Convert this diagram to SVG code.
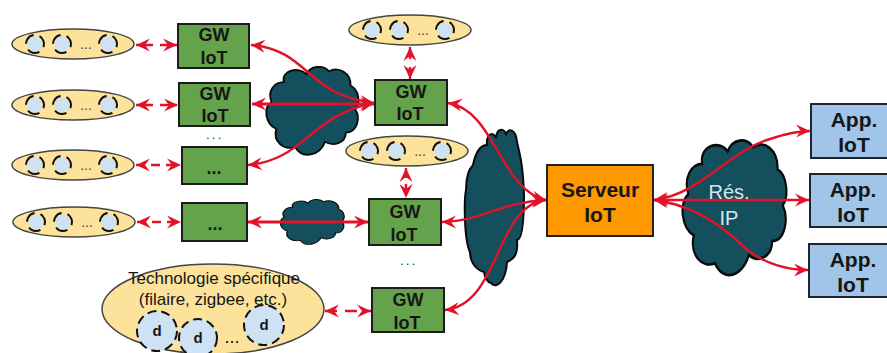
<svg xmlns="http://www.w3.org/2000/svg" xmlns:xlink="http://www.w3.org/1999/xlink" width="887" height="353" viewBox="0 0 887 353">
<style>
text{font-family:"Liberation Sans",Arial,sans-serif;text-anchor:middle;fill:#161616}
.b{font-weight:bold;font-size:18px}
.l{font-weight:bold;font-size:21px}
.gw{fill:#64a24c;stroke:#1c1c1c;stroke-width:2}
.app{fill:#a0c5e8;stroke:#1c2630;stroke-width:2}
.srv{fill:#ff9900;stroke:#222;stroke-width:2}
.y{fill:#fce29a;stroke:#444;stroke-width:1.5}
.s{fill:#cfe2f3;stroke:none}
.sd{fill:none;stroke:#111;stroke-width:2;stroke-dasharray:12.5 6.3}
.bd{fill:#cfe2f3;stroke:#111;stroke-width:2;stroke-dasharray:9 5}
.cl{fill:#134f5c;stroke:#0a0a0a;stroke-width:2;vector-effect:non-scaling-stroke}
.c{fill:none;stroke:#e2122b;stroke-width:2.4;marker-start:url(#a);marker-end:url(#a)}
.d{stroke-dasharray:17 7}
.dots{font-size:12px;letter-spacing:2.5px}
</style>
<defs>
<marker id="a" markerUnits="userSpaceOnUse" markerWidth="16" markerHeight="14" refX="14" refY="7" orient="auto-start-reverse">
<path d="M14,7 L0,0.5 L5,7 L0,13.5 Z" fill="#e2122b"/>
</marker>
<g id="sensors">
<ellipse cx="0" cy="0" rx="61" ry="15" class="y"/>
<circle cx="-38" cy="0" r="7.5" class="s"/><circle cx="-38" cy="0" r="9" class="sd" transform="rotate(-60 -38 0)"/>
<circle cx="-11" cy="0" r="7.5" class="s"/><circle cx="-11" cy="0" r="9" class="sd" transform="rotate(-60 -11 0)"/>
<circle cx="35" cy="0" r="7.5" class="s"/><circle cx="35" cy="0" r="9" class="sd" transform="rotate(-60 35 0)"/>
<text x="13" y="5" font-size="14" style="fill:#444">...</text>
</g>
<path id="cloud" d="M-30,-32 C-33,-45 -14,-50 -6,-41 C-2,-50 12,-52 18,-44 C28,-50 42,-42 41,-28 C50,-24 52,-8 46,-2 C52,8 48,24 36,24 C36,36 22,40 14,34 C8,50 -10,54 -18,40 C-30,44 -42,34 -38,20 C-50,14 -52,-4 -43,-10 C-48,-22 -40,-32 -30,-32 Z"/>
</defs>

<g id="cloud1"><use xlink:href="#cloud" class="cl" transform="translate(312,111) scale(.94,.9)"/></g>
<g id="cloud2"><use xlink:href="#cloud" class="cl" transform="translate(312,222) scale(.65,.46)"/></g>
<g id="cloud3"><path class="cl" d="M473,165 C476,150 482,145 487,145 C486,135 493,130 496,138 C497,127 505,128 506,135 C508,127 516,129 517,142 C520,155 523,165 524,195 C524,215 523,240 517,240 C518,252 516,258 507,262 C506,280 497,290 491,283 C487,282 485,278 484,272 C476,270 470,262 470,252 C464,240 464,200 466,190 C466,178 468,170 473,165 Z"/></g>
<g id="cloud4"><use xlink:href="#cloud" class="cl" transform="translate(734,208) scale(1.06,1.38)"/></g>

<g id="connectors">
<path class="c d" d="M136,45 H177"/>
<path class="c d" d="M136,105 H178"/>
<path class="c" stroke-dasharray="9 6" d="M136,165 H181"/>
<path class="c" stroke-dasharray="9 6" d="M137,222 H181"/>
<path class="c" stroke-dasharray="12 8" d="M410,47 V79"/>
<path class="c" stroke-dasharray="10 6" d="M406,168 V198"/>
<path class="c" stroke-dasharray="12 8" d="M325,311 H371"/>
<path class="c" d="M251,45 C310,50 305,95 374,103"/>
<path class="c" style="stroke-width:3" d="M252,104 H374"/>
<path class="c" d="M248,165 C305,160 310,115 374,103"/>
<path class="c" style="stroke-width:3" d="M248,222 H368"/>
<path class="c" d="M448,103 C495,110 500,190 546,200"/>
<path class="c" d="M442,222 C480,222 500,202 546,200"/>
<path class="c" d="M445,310 C500,305 495,205 546,200"/>
<path class="c" d="M654,200 C700,195 730,150 770,139 C785,134 800,131 810,131"/>
<path class="c" d="M654,200 H809"/>
<path class="c" d="M654,200 C695,205 725,228 745,248 C765,265 790,270 808,270"/>
</g>

<g id="sensors1"><use xlink:href="#sensors" x="73" y="44"/></g>
<g id="sensors2"><use xlink:href="#sensors" x="73" y="105"/></g>
<g id="sensors3"><use xlink:href="#sensors" x="73" y="165"/></g>
<g id="sensors4"><use xlink:href="#sensors" x="74" y="222"/></g>
<g id="sensors5"><use xlink:href="#sensors" x="410" y="30"/></g>
<g id="sensors6"><use xlink:href="#sensors" x="407" y="151"/></g>

<g id="gw1"><rect x="178" y="24" width="71" height="44" class="gw"/><text class="b" x="214" y="41">GW</text><text class="b" x="214" y="64">IoT</text></g>
<g id="gw2"><rect x="179" y="83" width="71" height="43" class="gw"/><text class="b" x="215" y="100">GW</text><text class="b" x="215" y="122">IoT</text></g>
<text x="215" y="139" class="dots">...</text>
<g id="gw3"><rect x="182" y="147" width="65" height="37" class="gw"/><text class="b" x="214" y="174">...</text></g>
<g id="gw4"><rect x="182" y="203" width="65" height="38" class="gw"/><text class="b" x="215" y="230">...</text></g>
<g id="gw5"><rect x="375" y="80" width="72" height="45" class="gw"/><text class="b" x="411" y="98">GW</text><text class="b" x="410" y="120">IoT</text></g>
<g id="gw6"><rect x="369" y="199" width="72" height="46" class="gw"/><text class="b" x="405" y="218">GW</text><text class="b" x="404" y="241">IoT</text></g>
<text x="409" y="265" class="dots">...</text>
<g id="gw7"><rect x="372" y="288" width="72" height="44" class="gw"/><text class="b" x="408" y="306">GW</text><text class="b" x="407" y="329">IoT</text></g>

<g id="server"><rect x="547" y="165" width="106" height="71" class="srv"/><text class="l" x="600" y="197">Serveur</text><text class="l" x="600" y="222">IoT</text></g>

<g id="app1"><rect x="811" y="104" width="80" height="54" class="app"/><text class="l" x="854" y="127">App.</text><text class="l" x="854" y="152">IoT</text></g>
<g id="app2"><rect x="810" y="174" width="80" height="53" class="app"/><text class="l" x="853" y="197">App.</text><text class="l" x="853" y="222">IoT</text></g>
<g id="app3"><rect x="809" y="244" width="80" height="53" class="app"/><text class="l" x="853" y="267">App.</text><text class="l" x="853" y="292">IoT</text></g>

<g id="res-ip"><text x="729" y="199" font-size="20" style="fill:#d5e6ee">Rés.</text><text x="729" y="225" font-size="20" style="fill:#d5e6ee">IP</text></g>

<g id="techno">
<ellipse cx="213" cy="309" rx="111" ry="45" class="y"/>
<text x="214" y="284" font-size="17">Technologie spécifique</text>
<text x="213" y="305" font-size="17">(filaire, zigbee, etc.)</text>
<circle cx="157" cy="331" r="20" class="bd"/>
<circle cx="198" cy="338" r="19" class="bd"/>
<circle cx="264" cy="325" r="20" class="bd"/>
<text class="b" style="font-size:15px" x="157" y="336">d</text>
<text class="b" style="font-size:15px" x="198" y="343">d</text>
<text class="b" style="font-size:15px" x="264" y="330">d</text>
<text x="232" y="343" font-size="18">...</text>
</g>
</svg>
